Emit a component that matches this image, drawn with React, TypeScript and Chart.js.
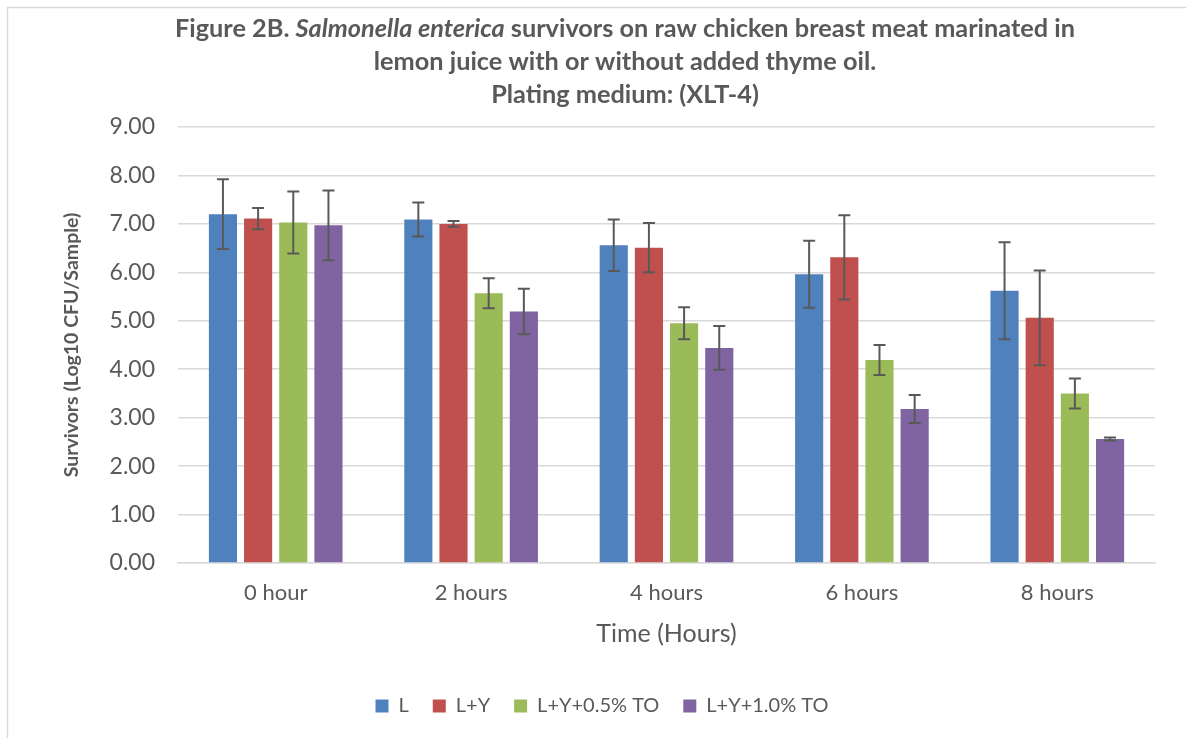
import React, { useEffect, useRef } from "react";
import { Chart, registerables } from "chart.js";

Chart.register(...registerables);

const categories = ["0 hour", "2 hours", "4 hours", "6 hours", "8 hours"];
const seriesNames = ["L", "L+Y", "L+Y+0.5% TO", "L+Y+1.0% TO"];
const seriesColors = ["#4F81BD", "#C0504D", "#9BBB59", "#8064A2"];
const valuesL = [7.2, 7.09, 6.56, 5.96, 5.62];
const valuesLY = [7.11, 7.0, 6.51, 6.31, 5.06];
const valuesL05 = [7.03, 5.57, 4.95, 4.19, 3.5];
const valuesL10 = [6.97, 5.19, 4.44, 3.18, 2.56];
const errL = [0.72, 0.35, 0.53, 0.69, 1.0];
const errLY = [0.22, 0.06, 0.51, 0.87, 0.98];
const errL05 = [0.64, 0.31, 0.33, 0.31, 0.31];
const errL10 = [0.72, 0.47, 0.45, 0.29, 0.03];
const yTicks = [0, 1, 2, 3, 4, 5, 6, 7, 8, 9];

const titleLine1 = [
  { text: "Figure 2B. ", italic: false },
  { text: "Salmonella enterica", italic: true },
  { text: " survivors on raw chicken breast meat marinated in", italic: false },
];
const titleLine2 = "lemon juice with or without added thyme oil.";
const titleLine3 = "Plating medium: (XLT-4)";
const yTitle = "Survivors (Log10 CFU/Sample)";
const xTitle = "Time (Hours)";

const FONT = "Lato";
const GRAY = "#595959";

const allValues = [valuesL, valuesLY, valuesL05, valuesL10];
const allErrors = [errL, errLY, errL05, errL10];

const framePlugin = {
  id: "frame",
  beforeDraw(chart: any) {
    const ctx = chart.ctx;
    ctx.save();
    ctx.fillStyle = "#ffffff";
    ctx.fillRect(0, 0, chart.width, chart.height);
    ctx.strokeStyle = "#d9d9d9";
    ctx.lineWidth = 1.5;
    ctx.strokeRect(7.5, 7.5, chart.width + 50, chart.height + 50);
    ctx.restore();
  },
};

const titlePlugin = {
  id: "mixedTitle",
  afterDraw(chart: any) {
    const ctx = chart.ctx;
    const size = 25.3;
    const cx = 625;
    ctx.save();
    ctx.fillStyle = GRAY;
    ctx.textBaseline = "middle";
    ctx.textAlign = "left";
    const fontFor = (it: boolean) => `${it ? "italic " : ""}bold ${size}px ${FONT}`;
    let total = 0;
    for (const seg of titleLine1) {
      ctx.font = fontFor(seg.italic);
      total += ctx.measureText(seg.text).width;
    }
    let x = cx - total / 2;
    for (const seg of titleLine1) {
      ctx.font = fontFor(seg.italic);
      ctx.fillText(seg.text, x, 29);
      x += ctx.measureText(seg.text).width;
    }
    ctx.font = fontFor(false);
    ctx.textAlign = "center";
    ctx.fillText(titleLine2, cx, 62);
    ctx.fillText(titleLine3, cx, 95);
    ctx.restore();
  },
};

const errorBarPlugin = {
  id: "errorBars",
  afterDatasetsDraw(chart: any) {
    const ctx = chart.ctx;
    const yScale = chart.scales.y;
    ctx.save();
    ctx.strokeStyle = GRAY;
    ctx.lineWidth = 2;
    chart.data.datasets.forEach((ds: any, i: number) => {
      const meta = chart.getDatasetMeta(i);
      meta.data.forEach((bar: any, j: number) => {
        const v = ds.data[j];
        const e = allErrors[i][j];
        const top = yScale.getPixelForValue(v + e);
        const bot = yScale.getPixelForValue(v - e);
        const x = bar.x;
        ctx.beginPath();
        ctx.moveTo(x, top);
        ctx.lineTo(x, bot);
        ctx.moveTo(x - 6, top);
        ctx.lineTo(x + 6, top);
        ctx.moveTo(x - 6, bot);
        ctx.lineTo(x + 6, bot);
        ctx.stroke();
      });
    });
    ctx.restore();
  },
};

export default function App() {
  const ref = useRef<HTMLCanvasElement | null>(null);
  useEffect(() => {
    if (!ref.current) return;
    const chart = new Chart(ref.current, {
      type: "bar",
      data: {
        labels: categories,
        datasets: seriesNames.map((name, i) => ({
          label: name,
          data: allValues[i],
          backgroundColor: seriesColors[i],
          borderWidth: 0,
          barPercentage: 0.8,
          categoryPercentage: 0.72,
        })),
      },
      options: {
        responsive: false,
        animation: false,
        layout: { padding: { left: 49, right: 31, top: 127, bottom: 12 } },
        plugins: {
          title: { display: false },
          tooltip: { enabled: false },
          legend: {
            position: "bottom",
            labels: {
              font: { family: FONT, size: 20 },
              color: GRAY,
              boxWidth: 13,
              boxHeight: 13,
              padding: 24,
            },
          },
        },
        scales: {
          x: {
            grid: { display: false, drawTicks: false },
            border: { display: true, color: "#d9d9d9", width: 1.5 },
            ticks: { font: { family: FONT, size: 22 }, color: GRAY, padding: 17 },
            title: {
              display: true,
              text: xTitle,
              font: { family: FONT, size: 25 },
              color: GRAY,
              padding: { top: 0, bottom: 23 },
            },
            afterFit(scale: any) {
              scale.height = 109;
            },
          },
          y: {
            min: 0,
            max: 9,
            afterBuildTicks(scale: any) {
              scale.ticks = yTicks.map((v) => ({ value: v }));
            },
            grid: { color: "#d9d9d9", lineWidth: 1.5, drawTicks: false },
            border: { display: false },
            ticks: {
              font: { family: FONT, size: 23 },
              color: GRAY,
              padding: 23,
              callback: (v: any) => Number(v).toFixed(2),
            },
            title: {
              display: true,
              text: yTitle,
              font: { family: FONT, size: 19.5, weight: "bold" },
              color: GRAY,
              padding: { top: 11, bottom: 0 },
            },
            afterFit(scale: any) {
              scale.width = 129;
            },
          },
        },
      },
      plugins: [framePlugin, titlePlugin, errorBarPlugin],
    });
    return () => chart.destroy();
  }, []);
  return (
    <div style={{ position: "absolute", left: 0, top: 0, width: 1186, height: 738 }}>
      <canvas ref={ref} width={1186} height={738} style={{ display: "block" }} />
    </div>
  );
}
